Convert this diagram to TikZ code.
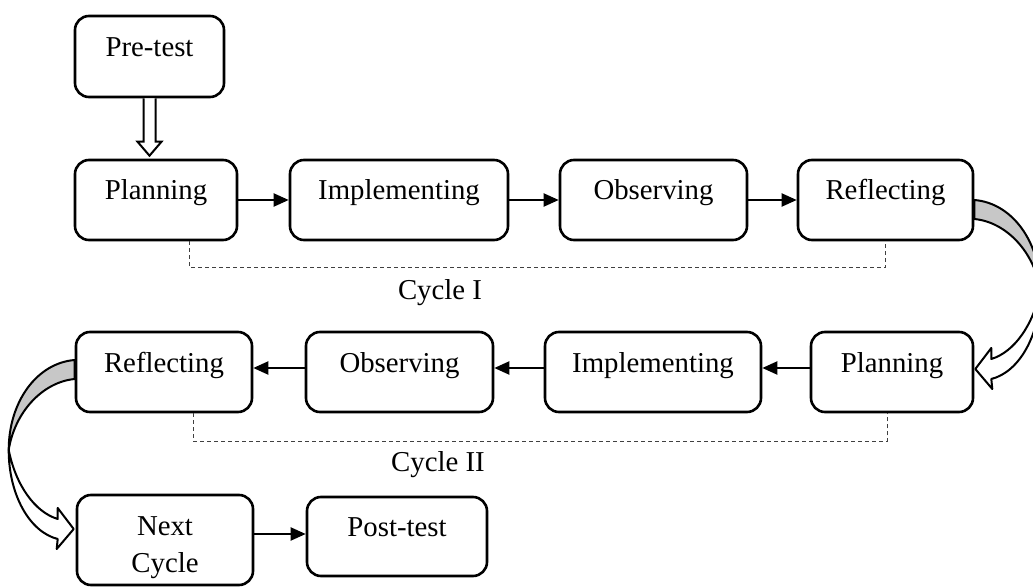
\documentclass[tikz,border=0pt]{standalone}
\usepackage{fontspec}
\setmainfont{Liberation Serif}
\usetikzlibrary{arrows.meta,calc}

\tikzset{
	stagebase/.style={draw, line width=1.3pt, rounded corners=7pt, inner sep=0pt, minimum height=40pt, font=\fontsize{14.4}{18.5}\selectfont},
	stage/.style={stagebase, text height=10pt, text depth=10pt},
	stagetall/.style={stagebase, align=center},
	flow/.style={line width=1pt, -{Triangle[length=7.5pt, width=6.5pt]}},
	hollow/.style={draw, fill=white, line width=1pt, line join=miter},
	bracket/.style={draw=black!75, line width=0.5pt, dash pattern=on 2pt off 1.5pt},
	caption/.style={font=\fontsize{14.4}{18.5}\selectfont},
	turnarrow/.pic={
		\draw[fill=white, line width=1pt, line join=round] (66, 90) .. controls (66, 135) and (45, 172) .. (17, 179) -- (18, 189) -- (1, 169) -- (17, 148) -- (17, 159) .. controls (40, 152) and (59, 125) .. (66, 90) -- cycle;
		\draw[fill=black!22, line width=1pt, line join=round] (0, 0) .. controls (38, 3) and (66, 42) .. (66, 90) .. controls (60, 52) and (32, 22) .. (0, 19) -- cycle;
	}
}

\begin{document}
\begin{tikzpicture}[x=0.5pt, y=-0.5pt]
	%%%%% START %%%%%
	\useasboundingbox (0, 0) rectangle (1033, 587);
	\clip (0, 0) rectangle (1033, 587);
	
	\node[stage, minimum width=74.5pt, minimum height=40.5pt] (pretest) at (149.5, 56.5) {Pre-test};
	
	% cycle I
	\node[stage, minimum width=81pt] (plan1) at (156, 200) {Planning};
	\node[stage, minimum width=109pt] (impl1) at (399, 200) {Implementing};
	\node[stage, minimum width=93.5pt] (obs1) at (653.5, 200) {Observing};
	\node[stage, minimum width=87.5pt] (refl1) at (885.5, 200) {Reflecting};
	
	% cycle II
	\node[stage, minimum width=81pt] (plan2) at (892, 372) {Planning};
	\node[stage, minimum width=108pt] (impl2) at (653, 372) {Implementing};
	\node[stage, minimum width=93.5pt] (obs2) at (399.5, 372) {Observing};
	\node[stage, minimum width=88pt] (refl2) at (164, 372) {Reflecting};
	
	\node[stagetall, minimum width=88pt, minimum height=45pt] (next) at (165, 540) {\rule{0pt}{17.5pt}Next\\Cycle};
	\node[stage, minimum width=90pt, minimum height=39.5pt] (post) at (397, 536.5) {Post-test};
	
	\coordinate (tip) at ($(pretest.south |- plan1.north)+(0, -3)$);
	\draw[hollow] ($(pretest.south)+(-6, 0)$) -- ($(tip)+(-6, -14)$) -- ($(tip)+(-12, -14)$) -- (tip) -- ($(tip)+(12, -14)$) -- ($(tip)+(6, -14)$) -- ($(pretest.south)+(6, 0)$);
	
	\draw[flow] (plan1) -- (impl1);
	\draw[flow] (impl1) -- (obs1);
	\draw[flow] (obs1) -- (refl1);
	
	\draw[flow] ([yshift=2pt]plan2.west) -- ([yshift=2pt]plan2.west -| impl2.east);
	\draw[flow] ([yshift=2pt]impl2.west) -- ([yshift=2pt]impl2.west -| obs2.east);
	\draw[flow] ([yshift=2pt]obs2.west) -- ([yshift=2pt]obs2.west -| refl2.east);
	
	\draw[flow] ([yshift=3pt]next.east) -- ([yshift=3pt]next.east -| post.west);
	
	\draw[bracket] ([xshift=16.5pt]plan1.south) -- ++(0, 26) -| (refl1.south);
	\draw[bracket] ([xshift=14.5pt]refl2.south) -- ++(0, 28) -| ([xshift=-2.5pt]plan2.south);
	\node[caption] (cyc1) at (440, 293) {Cycle I};
	\node[caption] (cyc2) at (438, 465) {Cycle II};
	
	\pic at (refl1.east) {turnarrow};
	\pic[xscale=-1] at ([yshift=6pt]refl2.west) {turnarrow};
	%%%%% END %%%%%
\end{tikzpicture}
\end{document}
